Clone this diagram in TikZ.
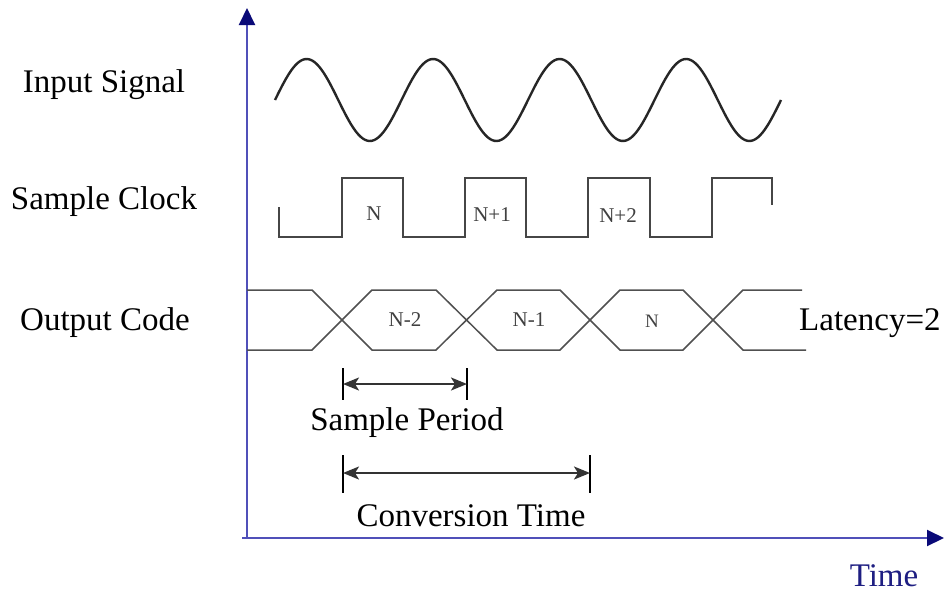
\documentclass[tikz,border=0pt]{standalone}
\usepackage{fontspec}
\setmainfont{Liberation Serif}
\usetikzlibrary{arrows.meta}
\definecolor{axisblue}{RGB}{80,80,185}
\definecolor{navyhead}{RGB}{10,10,120}
\definecolor{timeblue}{RGB}{30,30,130}
\definecolor{clkgray}{RGB}{70,70,70}
\definecolor{codegray}{RGB}{80,80,80}
\tikzset{
  axisline/.style={draw=axisblue, line width=2pt, -{Triangle[length=17pt,width=16pt,fill=navyhead,color=navyhead]}},
  sigline/.style={draw=black!85, line width=2.4pt},
  clkline/.style={draw=clkgray, line width=2.4pt},
  codeline/.style={draw=codegray, line width=1.5pt},
  tickline/.style={draw=black, line width=1.5pt},
  dimline/.style={draw=black!80, line width=2pt, {Stealth[length=16pt,width=13pt,inset=4pt]}-{Stealth[length=16pt,width=13pt,inset=4pt]}},
  lbl/.style={font=\fontsize{33}{38}\selectfont, inner sep=0pt},
  small/.style={font=\fontsize{21}{24}\selectfont, text=black!75, inner sep=0pt}
}
\begin{document}
\begin{tikzpicture}[x=1pt,y=-1pt]
\useasboundingbox (0,0) rectangle (944,595);
\fill[white] (0,0) rectangle (944,595);
% axes
\coordinate (origin) at (247,538);
\coordinate (ytip) at (247,8);
\coordinate (xstart) at (242,538);
\coordinate (xtip) at (944,538);
\draw[axisline] (origin) -- (ytip);
\draw[axisline] (xstart) -- (xtip);
% input signal
\draw[sigline] plot[domain=0:506, samples=220, smooth] ({\x+275}, {100-41*sin((\x/126.5)*360)});
% sample clock
\draw[clkline] (279,207) -- (279,237) -- (342,237) -- (342,178) -- (403,178) -- (403,237) -- (465,237) -- (465,178) -- (526,178) -- (526,237) -- (588,237) -- (588,178) -- (650,178) -- (650,237) -- (712,237) -- (712,178) -- (772,178) -- (772,205);
\node[small] (cN) at (374,214) {N};
\node[small] (cN1) at (492,215) {N+1};
\node[small] (cN2) at (618,216) {N+2};
% output code
\draw[codeline] (247,290) -- (312,290) -- (372,350) -- (436,350) -- (497,290) -- (560,290) -- (620,350) -- (683,350) -- (743,290) -- (802,290);
\draw[codeline] (247,350) -- (312,350) -- (372,290) -- (436,290) -- (497,350) -- (560,350) -- (620,290) -- (683,290) -- (743,350) -- (806,350);
\node[small] (oNm2) at (405,320) {N-2};
\node[small] (oNm1) at (529,320) {N-1};
\node[small, font=\fontsize{19}{22}\selectfont] (oN) at (652,321) {N};
% labels
\node[lbl] (in) at (104,85) {Input Signal};
\node[lbl] (sc) at (104,202) {Sample Clock};
\node[lbl] (oc) at (105,323) {Output Code};
\node[lbl, anchor=west] (lat) at (799,323) {Latency=2};
% sample period
\coordinate (spa) at (343,368); \coordinate (spb) at (343,400);
\coordinate (spc) at (467,368); \coordinate (spd) at (467,400);
\coordinate (spl) at (343,384); \coordinate (spr) at (467,384);
\draw[tickline] (spa) -- (spb);
\draw[tickline] (spc) -- (spd);
\draw[dimline] (spl) -- (spr);
\node[lbl] (sp) at (407,423) {Sample Period};
% conversion time
\coordinate (cta) at (343,455); \coordinate (ctb) at (343,493);
\coordinate (ctc) at (590,455); \coordinate (ctd) at (590,493);
\coordinate (ctl) at (343,473); \coordinate (ctr) at (590,473);
\draw[tickline] (cta) -- (ctb);
\draw[tickline] (ctc) -- (ctd);
\draw[dimline] (ctl) -- (ctr);
\node[lbl] (ct) at (471,516) {Conversion Time};
% time label
\node[lbl, text=timeblue] (time) at (884,576) {Time};
\end{tikzpicture}
\end{document}
